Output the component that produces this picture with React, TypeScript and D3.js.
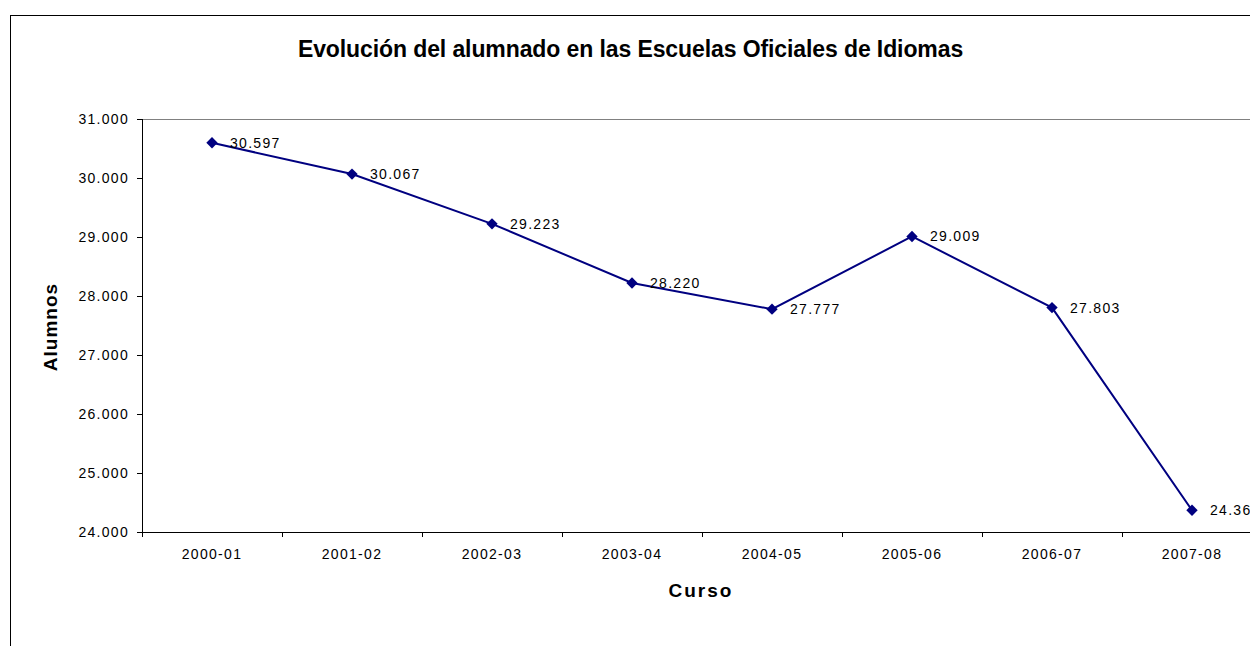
import React from "react";
import * as d3 from "d3";

const categories = ["2000-01", "2001-02", "2002-03", "2003-04", "2004-05", "2005-06", "2006-07", "2007-08"];
const values = [30597, 30067, 29223, 28220, 27777, 29009, 27803, 24369];
const yTicks = [24000, 25000, 26000, 27000, 28000, 29000, 30000, 31000];
const title = "Evolución del alumnado en las Escuelas Oficiales de Idiomas";
const yTitle = "Alumnos";
const xTitle = "Curso";

const W = 1250, H = 646;
const plot = { left: 142, top: 119, right: 1262, bottom: 532 };
const fmt = (v: number) => d3.format(",")(v).replace(/,/g, ".");
const NAVY = "#000080";
const FONT = "'Liberation Sans', Arial, sans-serif";

export default function App() {
  const x = d3.scaleBand<string>().domain(categories).range([plot.left, plot.right]).padding(0);
  const y = d3.scaleLinear().domain([24000, 31000]).range([plot.bottom, plot.top]);
  const cx = (c: string) => (x(c) as number) + x.bandwidth() / 2;
  const line = d3.line<number>().x((_, i) => cx(categories[i])).y((d) => y(d));
  const diamond = d3.symbol().type(d3.symbolDiamond2).size(82)();
  return (
    <svg width={W} height={H} style={{ position: "absolute", left: 0, top: 0, background: "#fff" }}>
      <rect x={0} y={0} width={W} height={H} fill="#fff" />
      <rect x={10.5} y={15.5} width={1300} height={700} fill="none" stroke="#000" strokeWidth={1} />
      <text x={630.5} y={57} textAnchor="middle" fontFamily={FONT} fontWeight="bold" fontSize={23} letterSpacing={-0.1}>{title}</text>
      {/* plot frame */}
      <line x1={plot.left} x2={W} y1={plot.top + 0.5} y2={plot.top + 0.5} stroke="#808080" strokeWidth={1} />
      <line x1={plot.left + 0.5} x2={plot.left + 0.5} y1={plot.top} y2={plot.bottom} stroke="#000" strokeWidth={1} />
      <line x1={plot.left} x2={W} y1={plot.bottom + 0.5} y2={plot.bottom + 0.5} stroke="#000" strokeWidth={1} />
      {yTicks.map((t) => (
        <g key={t}>
          <line x1={plot.left - 5} x2={plot.left} y1={Math.round(y(t)) + 0.5} y2={Math.round(y(t)) + 0.5} stroke="#000" />
          <text x={129} y={y(t)} dy="0.35em" textAnchor="end" fontFamily={FONT} fontSize={14} letterSpacing={1.3}>{fmt(t)}</text>
        </g>
      ))}
      {categories.map((c) => (
        <g key={c}>
          <line x1={(x(c) as number) + 0.5} x2={(x(c) as number) + 0.5} y1={plot.bottom} y2={plot.bottom + 5} stroke="#000" />
          <text x={cx(c)} y={559} textAnchor="middle" fontFamily={FONT} fontSize={14} letterSpacing={1.3}>{c}</text>
        </g>
      ))}
      <text x={701} y={597} textAnchor="middle" fontFamily={FONT} fontWeight="bold" fontSize={19} letterSpacing={2}>{xTitle}</text>
      <text transform={`translate(57,327) rotate(-90)`} textAnchor="middle" fontFamily={FONT} fontWeight="bold" fontSize={19} letterSpacing={1}>{yTitle}</text>
      <path d={line(values) as string} fill="none" stroke={NAVY} strokeWidth={2} />
      {values.map((v, i) => (
        <g key={i}>
          <path d={diamond as string} transform={`translate(${cx(categories[i])},${y(v)})`} fill={NAVY} />
          <text x={cx(categories[i]) + 18} y={y(v)} dy="0.35em" fontFamily={FONT} fontSize={14} letterSpacing={1.3}>{fmt(v)}</text>
        </g>
      ))}
    </svg>
  );
}
